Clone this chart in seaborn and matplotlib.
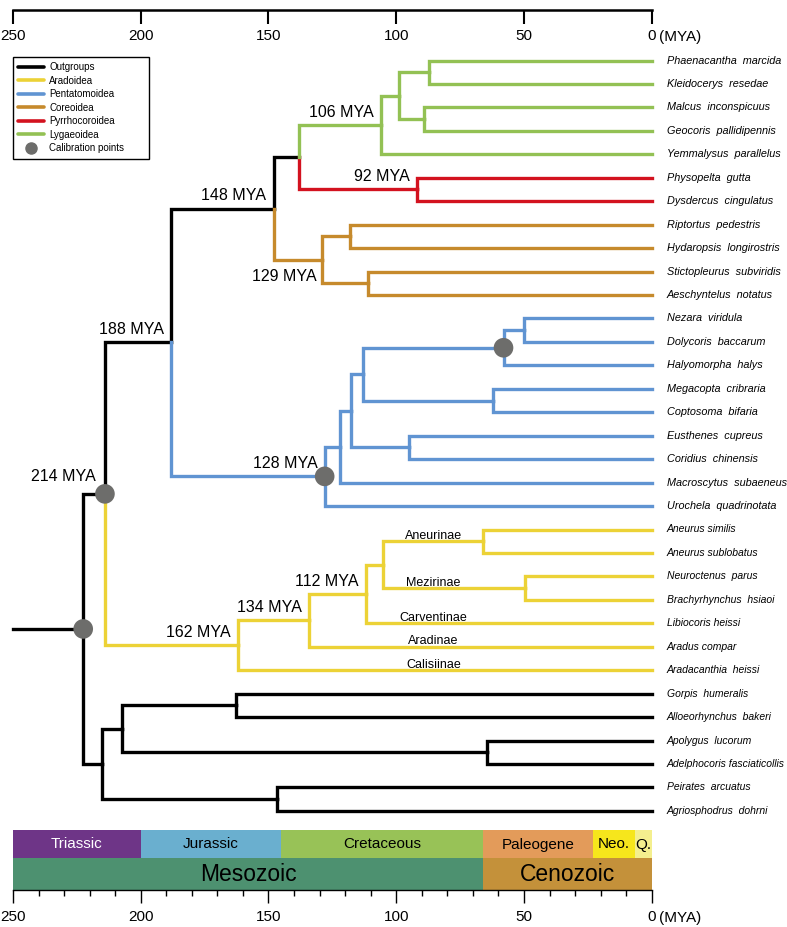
import matplotlib
matplotlib.use("Agg")
import numpy as np
import pandas as pd
import matplotlib.pyplot as plt
import seaborn as sns
from matplotlib.lines import Line2D

sns.set_theme(style="white")
plt.rcParams['font.family'] = ['Liberation Sans', 'DejaVu Sans']
plt.rcParams['text.color'] = 'black'
NARROW = ['Liberation Sans Narrow', 'Liberation Sans', 'DejaVu Sans']

# ------------------------------------------------------------------ data
tip_names = [
    "Phaenacantha  marcida", "Kleidocerys  resedae", "Malcus  inconspicuus",
    "Geocoris  pallidipennis", "Yemmalysus  parallelus",
    "Physopelta  gutta", "Dysdercus  cingulatus",
    "Riptortus  pedestris", "Hydaropsis  longirostris",
    "Stictopleurus  subviridis", "Aeschyntelus  notatus",
    "Nezara  viridula", "Dolycoris  baccarum", "Halyomorpha  halys",
    "Megacopta  cribraria", "Coptosoma  bifaria", "Eusthenes  cupreus",
    "Coridius  chinensis", "Macroscytus  subaeneus", "Urochela  quadrinotata",
    "Aneurus similis", "Aneurus sublobatus", "Neuroctenus  parus",
    "Brachyrhynchus  hsiaoi", "Libiocoris heissi", "Aradus compar",
    "Aradacanthia  heissi",
    "Gorpis  humeralis", "Alloeorhynchus  bakeri", "Apolygus  lucorum",
    "Adelphocoris fasciaticollis", "Peirates  arcuatus", "Agriosphodrus  dohrni",
]
tip_clades = (["Lygaeoidea"] * 5 + ["Pyrrhocoroidea"] * 2 + ["Coreoidea"] * 4 +
              ["Pentatomoidea"] * 9 + ["Aradoidea"] * 7 + ["Outgroups"] * 6)

node_ids = ["lyg_a", "lyg_b", "lyg_c", "lyg", "pyr", "lp", "cor_a", "cor_b", "cor", "n148",
            "pen_a", "pen_cal", "pen_b", "pen_c", "pen_d", "pen_e", "pen_f", "pen", "n188",
            "ara_a", "ara_b", "ara_c", "ara_d", "ara_e", "ara", "n214",
            "out_a", "out_b", "out_c", "out_d", "out", "root"]
node_ages = [87, 89, 99, 106, 92, 138, 118, 111, 129, 148,
             50, 58, 62, 113, 95, 117.5, 122, 128, 188,
             66, 49.5, 105, 112, 134, 162, 214,
             162.7, 64.3, 207.4, 146.8, 215, 222.5]
node_children = [[0, 1], [2, 3], ["lyg_a", "lyg_b"], ["lyg_c", 4], [5, 6], ["lyg", "pyr"],
                 [7, 8], [9, 10], ["cor_a", "cor_b"], ["lp", "cor"],
                 [11, 12], ["pen_a", 13], [14, 15], ["pen_cal", "pen_b"], [16, 17],
                 ["pen_c", "pen_d"], ["pen_e", 18], ["pen_f", 19], ["n148", "pen"],
                 [20, 21], [22, 23], ["ara_a", "ara_b"], ["ara_c", 24], ["ara_d", 25],
                 ["ara_e", 26], ["n188", "ara"],
                 [27, 28], [29, 30], ["out_a", "out_b"], [31, 32], ["out_c", "out_d"],
                 ["n214", "out"]]
node_clades = (["Lygaeoidea"] * 4 + ["Pyrrhocoroidea", "Outgroups"] + ["Coreoidea"] * 3 +
               ["Outgroups"] + ["Pentatomoidea"] * 8 + ["Outgroups"] +
               ["Aradoidea"] * 6 + ["Outgroups"] * 7)
root_start = 250
calibration_nodes = ["root", "n214", "pen", "pen_cal"]

node_label_ids = ["n214", "n188", "n148", "cor", "lyg", "pyr", "pen", "ara", "ara_e", "ara_d"]
node_label_text = ["214 MYA", "188 MYA", "148 MYA", "129 MYA", "106 MYA", "92 MYA",
                   "128 MYA", "162 MYA", "134 MYA", "112 MYA"]

subfamily_names = ["Aneurinae", "Mezirinae", "Carventinae", "Aradinae", "Calisiinae"]
subfamily_targets = ["ara_a", "ara_b", 24, 25, 26]

clade_order = ["Outgroups", "Aradoidea", "Pentatomoidea", "Coreoidea", "Pyrrhocoroidea", "Lygaeoidea"]
clade_colors = ["#000000", "#ecd236", "#6094d2", "#c68a2c", "#d3121f", "#93c154"]

period_names = ["Triassic", "Jurassic", "Cretaceous", "Paleogene", "Neo.", "Q."]
period_start = [250, 200, 145, 66, 23, 6.5]
period_end = [200, 145, 66, 23, 6.5, 0]
period_colors = ["#6e3587", "#6aafcf", "#98c257", "#e39b5a", "#f6e61c", "#f4ef8e"]
period_text = ["white", "black", "black", "black", "black", "black"]
era_names = ["Mesozoic", "Cenozoic"]
era_start = [250, 66]
era_end = [66, 0]
era_colors = ["#4d9170", "#c4913a"]

axis_ticks = [250, 200, 150, 100, 50, 0]

# ------------------------------------------------------------------ tree geometry
age = {nid: a for nid, a in zip(node_ids, node_ages)}
kids = {nid: c for nid, c in zip(node_ids, node_children)}
clade = {nid: c for nid, c in zip(node_ids, node_clades)}
for i, c in enumerate(tip_clades):
    age[i] = 0.0
    clade[i] = c

ypos = {}


def get_y(n):
    if n in ypos:
        return ypos[n]
    if isinstance(n, int):
        ypos[n] = float(n)
    else:
        ypos[n] = 0.5 * (get_y(kids[n][0]) + get_y(kids[n][-1]))
    return ypos[n]


for nid in node_ids:
    get_y(nid)

rows = []
seg = 0
rows += [dict(seg=seg, x=root_start, y=ypos["root"], clade="Outgroups", o=0),
         dict(seg=seg, x=age["root"], y=ypos["root"], clade="Outgroups", o=1)]
for nid in node_ids:
    for ch in kids[nid]:
        seg += 1
        pts = [(age[nid], ypos[nid]), (age[nid], ypos[ch]), (age[ch], ypos[ch])]
        for k, (xx, yy) in enumerate(pts):
            rows.append(dict(seg=seg, x=xx, y=yy, clade=clade[ch], o=k))
df = pd.DataFrame(rows)

# ------------------------------------------------------------------ figure
Y0, DY = 60.5, 23.45          # pixel of first tip, pixel per tip
PX0, PPM = 651.7, 2.555        # pixel of 0 MYA, pixels per MYA


def px2y(p):
    return (p - Y0) / DY


def px2m(p):
    return (PX0 - p) / PPM


W, H = 787, 927
fig = plt.figure(figsize=(W / 100, H / 100), dpi=100)
ax = fig.add_axes([0, 0, 1, 1])

palette = dict(zip(clade_order, clade_colors))
sns.lineplot(data=df, x="x", y="y", units="seg", estimator=None, hue="clade",
             hue_order=clade_order, palette=palette, sort=False, linewidth=2.4,
             legend=False, ax=ax, solid_capstyle="projecting", solid_joinstyle="miter")

cal_df = pd.DataFrame(dict(x=[age[n] for n in calibration_nodes],
                           y=[ypos[n] for n in calibration_nodes]))
sns.scatterplot(data=cal_df, x="x", y="y", s=200, color="#6d6d6b", edgecolor="none",
                zorder=5, ax=ax)

ax.set_xlim(px2m(0), px2m(W))
ax.set_ylim(px2y(H), px2y(0))
ax.axis("off")

# tip labels
for i, name in enumerate(tip_names):
    fs = 7.8 if i < 20 else 7.5
    ax.text(-5.8, i, name, ha="left", va="center", fontsize=fs, style="italic", color="black")

# node age labels
for nid, txt in zip(node_label_ids, node_label_text):
    if nid == "cor":
        ax.text(age[nid] + 2.0, ypos[nid] + 0.38, txt, ha="right", va="top", fontsize=11.5)
    elif nid == "n214":
        ax.text(age[nid] + 3.5, ypos[nid] - 0.55, txt, ha="right", va="baseline", fontsize=11.5)
    else:
        ax.text(age[nid] + 2.8, ypos[nid] - 0.36, txt, ha="right", va="baseline", fontsize=11.5)

# subfamily labels
for name, tgt in zip(subfamily_names, subfamily_targets):
    ax.text(85.4, ypos[tgt] - 0.1, name, ha="center", va="baseline", fontsize=9)

# legend
handles = [Line2D([], [], color=c, lw=2.6) for c in clade_colors]
handles.append(Line2D([], [], marker="o", color="#6d6d6b", linestyle="none", markersize=8))
labels = clade_order + ["Calibration points"]
leg = ax.legend(handles, labels, loc="upper left",
                bbox_to_anchor=(13 / W, 1 - 57 / H, (149 - 13) / W, 0),
                bbox_transform=fig.transFigure, mode="expand", borderaxespad=0,
                fontsize=7, handlelength=2.6, handletextpad=0.6, labelspacing=0.36,
                borderpad=0.55, fancybox=False, frameon=True, framealpha=1)
leg.get_frame().set_edgecolor("black")
leg.get_frame().set_linewidth(1.0)
for t in leg.get_texts():
    t.set_color("black")

# top time axis
axw = (PX0 - 13) / W
ax_t = fig.add_axes([13 / W, 1 - 10 / H, axw, 1 / H])
ax_t.set_xlim(250, 0)
ax_t.set_ylim(0, 1)
ax_t.patch.set_alpha(0)
for s in ["top", "left", "right"]:
    ax_t.spines[s].set_visible(False)
ax_t.spines["bottom"].set_color("black")
ax_t.spines["bottom"].set_linewidth(1.8)
ax_t.set_yticks([])
ax_t.set_xticks(axis_ticks)
ax_t.set_xticklabels([str(t) for t in axis_ticks], fontfamily=NARROW)
ax_t.tick_params(axis="x", bottom=True, direction="out", length=10, width=1.5,
                 color="black", pad=4, labelsize=11, labelcolor="black")
ax.text(px2m(659), px2y(37), "(MYA)", ha="left", va="center", fontsize=11, family=NARROW)

# bottom geological time scale
ax_b = fig.add_axes([13 / W, 1 - 890 / H, axw, 60 / H])
ax_b.set_xlim(250, 0)
ax_b.set_ylim(0, 60)
for s in ["top", "left", "right"]:
    ax_b.spines[s].set_visible(False)
ax_b.spines["bottom"].set_color("black")
ax_b.spines["bottom"].set_linewidth(1.0)
ax_b.set_yticks([])
for nm, s0, e0, col, tc in zip(period_names, period_start, period_end, period_colors, period_text):
    ax_b.barh(46, s0 - e0, left=e0, height=28, color=col, linewidth=0)
    ax_b.text((s0 + e0) / 2, 45.5, nm, ha="center", va="center", fontsize=11, color=tc)
for nm, s0, e0, col in zip(era_names, era_start, era_end, era_colors):
    ax_b.barh(16, s0 - e0, left=e0, height=32, color=col, linewidth=0)
    ax_b.text((s0 + e0) / 2, 15.5, nm, ha="center", va="center", fontsize=16.5, color="black")
ax_b.set_xticks(axis_ticks)
ax_b.set_xticks(np.arange(0, 251, 10), minor=True)
ax_b.set_xticklabels([str(t) for t in axis_ticks], fontfamily=NARROW)
ax_b.tick_params(axis="x", which="major", bottom=True, direction="out", length=9.5, width=1.0,
                 color="black", pad=5, labelsize=11, labelcolor="black")
ax_b.tick_params(axis="x", which="minor", bottom=True, direction="out", length=4.5, width=1.0,
                 color="black")
ax.text(px2m(659), px2y(918), "(MYA)", ha="left", va="center", fontsize=11, family=NARROW)

fig.savefig("out.png", dpi=100)
